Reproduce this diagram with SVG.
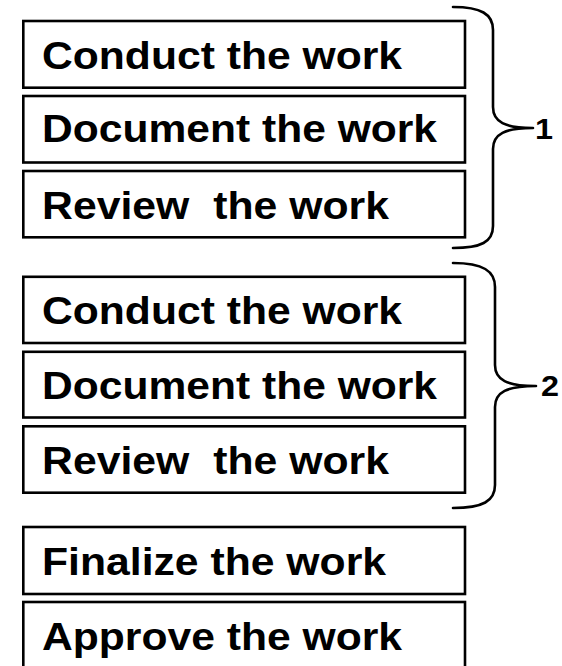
<svg xmlns="http://www.w3.org/2000/svg" width="562" height="666" viewBox="0 0 562 666">
  <style>
    .box { fill: #ffffff; stroke: #000000; stroke-width: 2.6; }
    .lbl { font-family: "Liberation Sans", Arial, sans-serif; font-weight: bold; font-size: 38.5px; fill: #000000; white-space: pre; }
    .num { font-family: "Liberation Sans", Arial, sans-serif; font-weight: bold; font-size: 29px; fill: #000000; }
    .brace { fill: none; stroke: #000000; stroke-width: 2.6; stroke-linecap: round; stroke-linejoin: round; }
  </style>
  <rect width="562" height="666" fill="#ffffff"/>

  <!-- first pass -->
  <g id="conduct-1">
    <rect class="box" x="23.3" y="21" width="441.7" height="66.7"/>
    <text class="lbl" x="42" y="69" textLength="360" lengthAdjust="spacingAndGlyphs">Conduct the work</text>
  </g>
  <g id="document-1">
    <rect class="box" x="23.3" y="96" width="441.7" height="66.5"/>
    <text class="lbl" x="42" y="141.5" textLength="395" lengthAdjust="spacingAndGlyphs">Document the work</text>
  </g>
  <g id="review-1">
    <rect class="box" x="23.3" y="171" width="441.7" height="66.3"/>
    <text class="lbl" x="42" y="218.5" textLength="347" lengthAdjust="spacingAndGlyphs" xml:space="preserve">Review  the work</text>
  </g>

  <!-- second pass -->
  <g id="conduct-2">
    <rect class="box" x="23.3" y="276.8" width="441.7" height="66.2"/>
    <text class="lbl" x="42" y="324" textLength="360" lengthAdjust="spacingAndGlyphs">Conduct the work</text>
  </g>
  <g id="document-2">
    <rect class="box" x="23.3" y="351.8" width="441.7" height="65.7"/>
    <text class="lbl" x="42" y="398.5" textLength="395" lengthAdjust="spacingAndGlyphs">Document the work</text>
  </g>
  <g id="review-2">
    <rect class="box" x="23.3" y="426.3" width="441.7" height="66.4"/>
    <text class="lbl" x="42" y="474" textLength="347" lengthAdjust="spacingAndGlyphs" xml:space="preserve">Review  the work</text>
  </g>

  <!-- closing steps -->
  <g id="finalize">
    <rect class="box" x="23.3" y="527" width="441.7" height="67"/>
    <text class="lbl" x="42" y="575" textLength="344" lengthAdjust="spacingAndGlyphs">Finalize the work</text>
  </g>
  <g id="approve">
    <rect class="box" x="23.3" y="602" width="441.7" height="67"/>
    <text class="lbl" x="42" y="650" textLength="360" lengthAdjust="spacingAndGlyphs">Approve the work</text>
  </g>

  <!-- braces grouping each pass -->
  <g id="connectors">
    <path class="brace" d="M453,7 C481,7 493,14 493,30 L493,107 C493,122 505,128 533,128 C505,128 493,134 493,149 L493,226 C493,242 481,248 453,248"/>
    <path class="brace" d="M453,263 C483,263 495,271 495,287 L495,365 C495,380 507,386 536,386 C507,386 495,392 495,407 L495,485 C495,501 483,508 453,508"/>
  </g>
  <g id="label-1">
    <text class="num" x="535" y="138.5" textLength="18" lengthAdjust="spacingAndGlyphs">1</text>
  </g>
  <g id="label-2">
    <text class="num" x="541" y="395.5" textLength="18" lengthAdjust="spacingAndGlyphs">2</text>
  </g>
</svg>
